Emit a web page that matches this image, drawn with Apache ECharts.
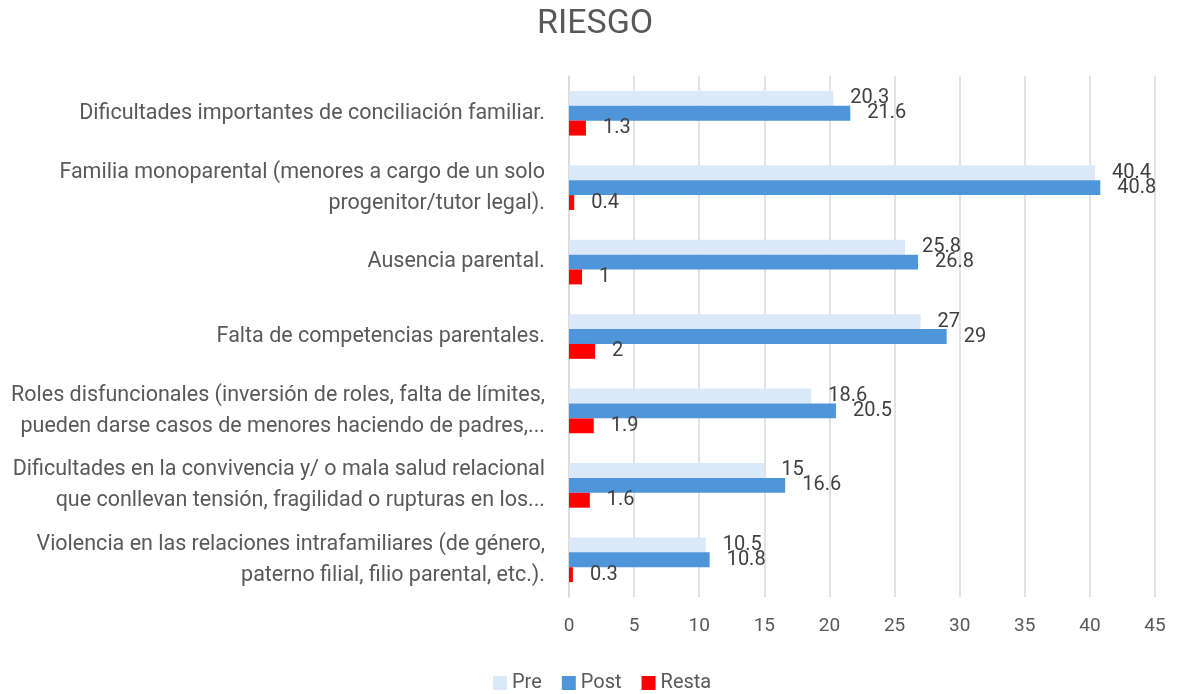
<!DOCTYPE html>
<html>
<head>
<meta charset="utf-8">
<script src="https://cdn.jsdelivr.net/npm/echarts@6/dist/echarts.min.js"></script>
<style>
  html, body { margin: 0; padding: 0; background: #fff; }
  #riesgoChart { width: 1177px; height: 694px; }
</style>
</head>
<body>
<div id="riesgoChart"></div>
<script>
// categorias (de arriba a abajo)
let categorias = [
  'Dificultades importantes de conciliación familiar.',
  'Familia monoparental (menores a cargo de un solo\nprogenitor/tutor legal).',
  'Ausencia parental.',
  'Falta de competencias parentales.',
  'Roles disfuncionales (inversión de roles, falta de límites,\npueden darse casos de menores haciendo de padres,...',
  'Dificultades en la convivencia y/ o mala salud relacional\nque conllevan tensión, fragilidad o rupturas en los...',
  'Violencia en las relaciones intrafamiliares (de género,\npaterno filial, filio parental, etc.).'
];
let pre = [20.3, 40.4, 25.8, 27, 18.6, 15, 10.5];
let post = [21.6, 40.8, 26.8, 29, 20.5, 16.6, 10.8];
let resta = [1.3, 0.4, 1, 2, 1.9, 1.6, 0.3];

let fuente = 'Roboto, "Liberation Sans", sans-serif';
let etiqueta = {
  show: true,
  position: 'right',
  distance: 17,
  color: '#404040',
  fontSize: 20,
  fontFamily: fuente
};

let chart = echarts.init(document.getElementById('riesgoChart'));
let option = {
  animation: false,
  title: {
    text: 'RIESGO',
    left: 532,
    top: 2,
    textStyle: { color: '#595959', fontSize: 34, fontWeight: 'normal', fontFamily: fuente }
  },
  legend: {
    data: ['Pre', 'Post', 'Resta'],
    top: 668,
    left: 488,
    icon: 'rect',
    itemWidth: 14,
    itemHeight: 14,
    itemGap: 20,
    textStyle: { color: '#595959', fontSize: 20, fontFamily: fuente }
  },
  grid: {
    left: 569,
    right: 22,
    top: 76,
    bottom: 97
  },
  xAxis: {
    type: 'value',
    min: 0,
    max: 45,
    interval: 5,
    axisLine: { show: false },
    axisTick: { show: false },
    splitLine: { show: true, lineStyle: { color: '#d9d9d9', width: 1.5 } },
    axisLabel: { color: '#595959', fontSize: 19, fontFamily: fuente, margin: 20 }
  },
  yAxis: {
    type: 'category',
    inverse: true,
    data: categorias,
    axisLine: { show: true, lineStyle: { color: '#d9d9d9', width: 1.5 } },
    axisTick: { show: false },
    axisLabel: {
      color: '#595959',
      fontSize: 21.5,
      fontFamily: fuente,
      lineHeight: 31,
      align: 'right',
      margin: 24
    }
  },
  series: [
    {
      name: 'Pre',
      type: 'bar',
      data: pre,
      barGap: '0%',
      barCategoryGap: '40%',
      itemStyle: { color: '#dae8f7' },
      label: etiqueta
    },
    {
      name: 'Post',
      type: 'bar',
      data: post,
      itemStyle: { color: '#4e95d9' },
      label: etiqueta
    },
    {
      name: 'Resta',
      type: 'bar',
      data: resta,
      itemStyle: { color: '#ff0000' },
      label: etiqueta
    }
  ]
};
chart.setOption(option);
</script>
</body>
</html>
